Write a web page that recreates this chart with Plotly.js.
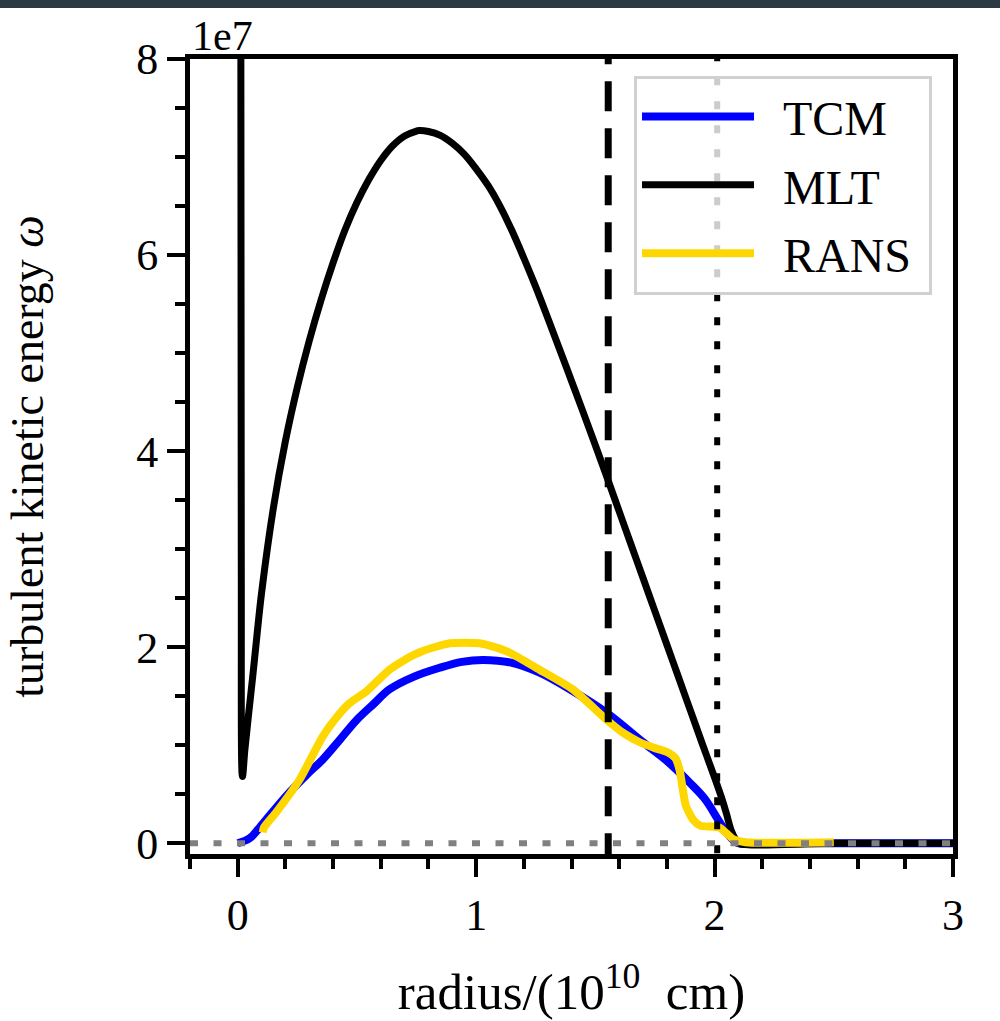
<!DOCTYPE html>
<html>
<head>
<meta charset="utf-8">
<script src="https://cdn.plot.ly/plotly-3.0.1.min.js"></script>
<style>
  html, body { margin: 0; padding: 0; background: #ffffff; }
  #topbar { position: absolute; left: 0; top: 0; width: 1000px; height: 8px; background: #2b3942; z-index: 10; }
  #chart { position: absolute; left: 0; top: 0; width: 1000px; height: 1021px; }
</style>
</head>
<body>
<div id="topbar"></div>
<div id="chart"></div>
<script>
// Values in units of 1e7
const mltX = [0.012, 0.015, 0.02, 0.03, 0.045, 0.063, 0.08, 0.1, 0.15, 0.2, 0.25, 0.3, 0.35, 0.4, 0.45, 0.5, 0.55, 0.6, 0.65, 0.7, 0.75, 0.76,
              0.8, 0.85, 0.9, 0.95, 1.0, 1.05, 1.1, 1.15, 1.2, 1.25, 1.3, 1.35, 1.4, 1.45, 1.5, 1.55, 1.6, 1.65, 1.7, 1.75, 1.8, 1.85, 1.9, 1.95, 2.0, 2.03, 2.05, 2.07, 2.09, 2.1, 2.5, 3.0];
const mltY = [12.0, 3.0, 0.68, 0.95, 1.3, 1.7, 2.1, 2.55, 3.425, 4.1, 4.65, 5.125, 5.545, 5.92, 6.255, 6.535, 6.77, 6.965, 7.115, 7.215, 7.265, 7.27,
              7.26, 7.22, 7.14, 7.03, 6.88, 6.71, 6.5, 6.25, 5.97, 5.675, 5.36, 5.04, 4.715, 4.39, 4.06, 3.725, 3.385, 3.045, 2.705, 2.365, 2.025, 1.685, 1.345, 1.005, 0.67, 0.46, 0.3, 0.13, 0.03, 0.0, 0.0, 0.0];

const tcmX = [0.0, 0.05, 0.092, 0.15, 0.218, 0.29, 0.357, 0.43, 0.5, 0.57, 0.637, 0.74, 0.847, 0.94, 1.03, 1.15, 1.266, 1.4, 1.547, 1.7, 1.8, 1.895, 1.96, 2.02, 2.06, 2.1, 2.2, 3.0];
const tcmY = [0.0, 0.05, 0.16, 0.33, 0.52, 0.7, 0.855, 1.06, 1.26, 1.42, 1.57, 1.70, 1.79, 1.85, 1.87, 1.84, 1.74, 1.56, 1.33, 1.03, 0.84, 0.62, 0.45, 0.22, 0.08, 0.0, 0.0, 0.0];

const ransX = [0.105, 0.11, 0.163, 0.26, 0.357, 0.42, 0.47, 0.54, 0.637, 0.7, 0.776, 0.89, 1.015, 1.127, 1.266, 1.405, 1.547, 1.62, 1.686, 1.75, 1.8, 1.835, 1.853, 1.87, 1.88, 1.91, 1.94, 2.02, 2.05, 2.08, 2.13, 2.5];
const ransY = [0.11, 0.16, 0.32, 0.65, 1.09, 1.3, 1.43, 1.55, 1.77, 1.87, 1.96, 2.04, 2.04, 1.96, 1.77, 1.57, 1.26, 1.12, 1.03, 0.97, 0.93, 0.87, 0.75, 0.5, 0.38, 0.24, 0.18, 0.16, 0.1, 0.04, 0.01, 0.01];

const dashedLineX = 1.554;   // vertical dashed marker
const dottedLineX = 2.011;   // vertical dotted marker
const zeroLineX = [-0.2, 3.0];
const zeroLineY = [0, 0];

const xTicks = [0, 1, 2, 3];
const yTicks = [0, 2, 4, 6, 8];
const yExponentLabel = '1e7';
const padL = '\u00a0\u00a0';
const padR = '\u00a0';

const serif = '"Liberation Serif", "Times New Roman", Times, serif';

const traces = [
  { x: tcmX, y: tcmY, name: padL + 'TCM' + padR, mode: 'lines', legendgroup: 'a',
    line: { color: '#0000ff', width: 8, shape: 'spline', smoothing: 1 } },
  { x: mltX, y: mltY, name: padL + 'MLT' + padR, mode: 'lines', legendgroup: 'b',
    line: { color: '#000000', width: 7, shape: 'spline', smoothing: 1 } },
  { x: ransX, y: ransY, name: padL + 'RANS' + padR, mode: 'lines', legendgroup: 'c',
    line: { color: '#ffd700', width: 8, shape: 'spline', smoothing: 0.6 } },
  { x: [dashedLineX, dashedLineX], y: [-5, 20], mode: 'lines', showlegend: false,
    line: { color: '#000000', width: 7, dash: '30px,17px' } },
  { x: [dottedLineX, dottedLineX], y: [-5, 20], mode: 'lines', showlegend: false,
    line: { color: '#000000', width: 6, dash: '8px,16px' } },
  { x: zeroLineX, y: zeroLineY, mode: 'lines', showlegend: false,
    line: { color: '#808080', width: 6, dash: '8px,15.5px' } }
];

const axisCommon = {
  showline: true, mirror: true, linecolor: '#000', linewidth: 5,
  ticks: 'outside', tickcolor: '#000', tickwidth: 4, ticklen: 18,
  showgrid: false, zeroline: false,
  tickfont: { family: serif, size: 44, color: '#000' }
};

const layout = {
  width: 1000, height: 1021,
  margin: { l: 190, r: 47, t: 59, b: 167 },
  paper_bgcolor: '#ffffff', plot_bgcolor: '#ffffff',
  showlegend: true,
  xaxis: Object.assign({}, axisCommon, {
    range: [-0.2, 3.0],
    tickmode: 'array', tickvals: xTicks, ticktext: xTicks.map(String),
    minor: { tickmode: 'linear', tick0: 0, dtick: 0.2, ticks: 'outside', ticklen: 10, tickwidth: 4, tickcolor: '#000' },
    title: { text: 'radius/(10<sup>10</sup>\u00a0\u00a0cm)', font: { family: serif, size: 51, color: '#000' }, standoff: 36 }
  }),
  yaxis: Object.assign({}, axisCommon, {
    range: [-0.11, 8.0],
    tickmode: 'array', tickvals: yTicks, ticktext: yTicks.map(String),
    minor: { tickmode: 'linear', tick0: 0, dtick: 0.5, ticks: 'outside', ticklen: 10, tickwidth: 4, tickcolor: '#000' },
    title: { text: 'turbulent kinetic energy <i>ω</i>', font: { family: serif, size: 46, color: '#000' }, standoff: 80 }
  }),
  legend: {
    x: 0.9725, xanchor: 'right', y: 0.979, yanchor: 'top',
    bgcolor: 'rgba(255,255,255,0.8)', bordercolor: '#d0d0d0', borderwidth: 3,
    font: { family: serif, size: 48, color: '#000' },
    itemwidth: 112, traceorder: 'grouped', tracegroupgap: 3
  },
  annotations: [{
    text: yExponentLabel, xref: 'paper', yref: 'paper', x: 0, y: 1,
    xanchor: 'left', yanchor: 'bottom', showarrow: false, yshift: -2,
    font: { family: serif, size: 42, color: '#000' }
  }]
};

Plotly.newPlot('chart', traces, layout, { displayModeBar: false, staticPlot: true });
</script>
</body>
</html>
